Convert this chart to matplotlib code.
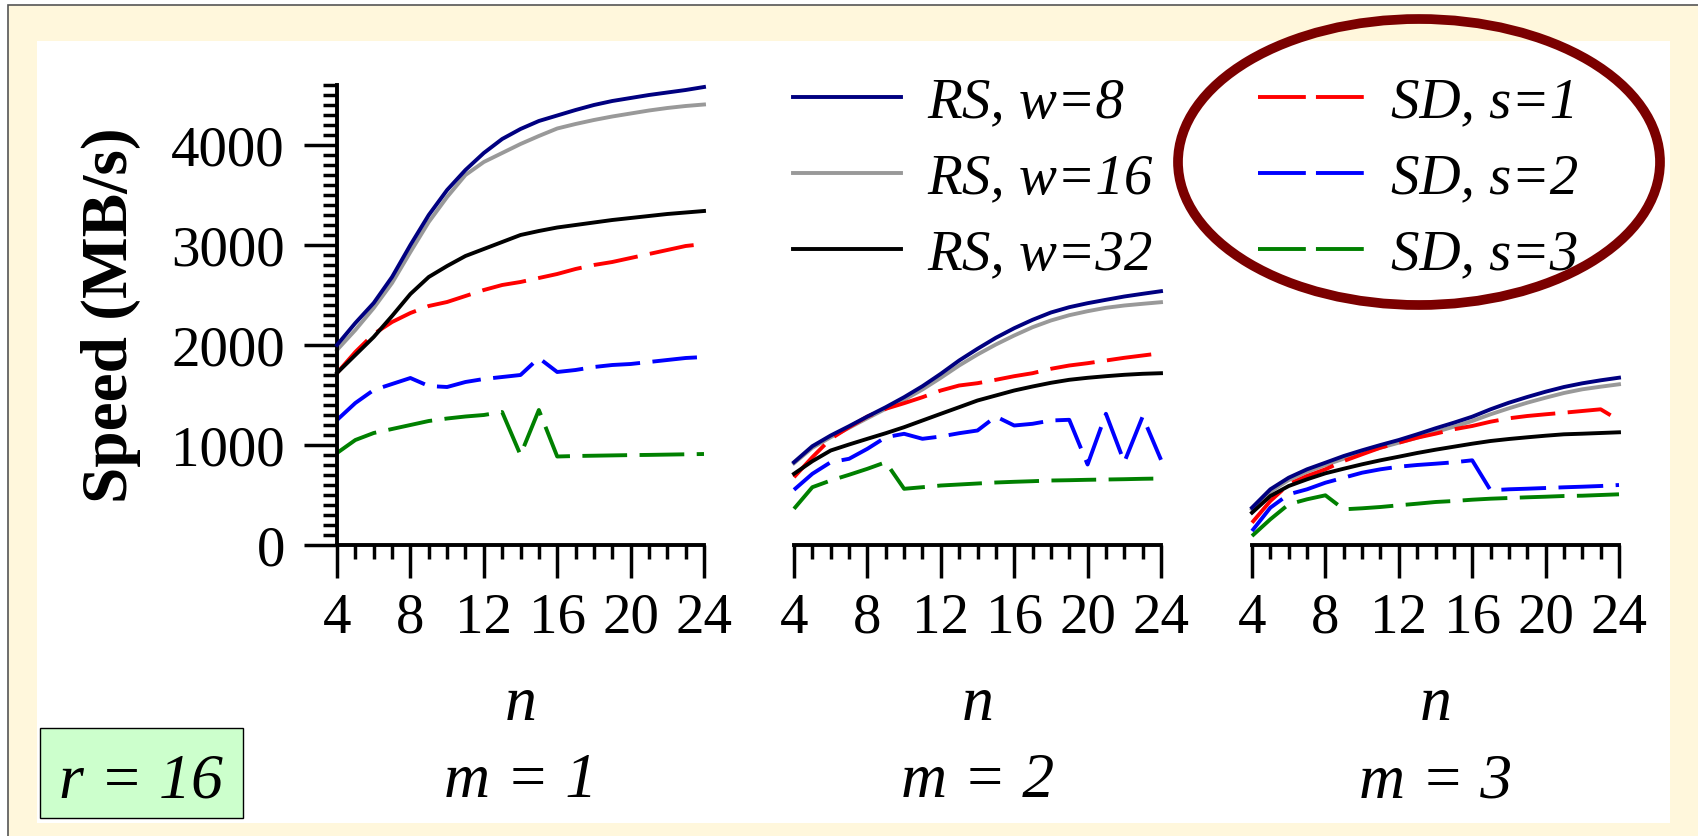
import matplotlib.pyplot as plt
from matplotlib.lines import Line2D
from matplotlib.patches import Rectangle, Ellipse
from matplotlib.ticker import MultipleLocator

plt.rcParams['font.family'] = 'Liberation Serif'

W, H = 1698, 836

n = list(range(4, 25))

# m = 1
rs8_m1 = [2000, 2220, 2420, 2680, 3000, 3300, 3550, 3750, 3920, 4060, 4160, 4240, 4295, 4350, 4400, 4440, 4470, 4500, 4525, 4550, 4580]
rs16_m1 = [1950, 2150, 2370, 2620, 2930, 3230, 3480, 3700, 3830, 3920, 4010, 4090, 4165, 4210, 4250, 4285, 4315, 4345, 4370, 4390, 4405]
rs32_m1 = [1720, 1900, 2080, 2290, 2510, 2680, 2790, 2890, 2960, 3030, 3100, 3140, 3175, 3200, 3225, 3250, 3270, 3290, 3310, 3325, 3340]
sd1_m1 = [1720, 1930, 2110, 2230, 2320, 2390, 2430, 2490, 2550, 2600, 2630, 2670, 2710, 2760, 2800, 2830, 2870, 2910, 2950, 2990, 3010]
sd2_m1 = [1250, 1420, 1550, 1610, 1670, 1590, 1580, 1630, 1660, 1680, 1700, 1870, 1730, 1750, 1780, 1800, 1810, 1830, 1850, 1870, 1880]
sd3_m1 = [920, 1050, 1120, 1160, 1200, 1240, 1265, 1285, 1300, 1330, 900, 1350, 885, 890, 893, 896, 899, 901, 904, 907, 910]

# m = 2
rs8_m2 = [828, 988, 1095, 1188, 1285, 1378, 1478, 1588, 1712, 1845, 1962, 2072, 2168, 2252, 2325, 2378, 2418, 2452, 2485, 2512, 2538]
rs16_m2 = [818, 972, 1078, 1172, 1268, 1362, 1452, 1555, 1672, 1795, 1905, 2005, 2095, 2178, 2245, 2298, 2338, 2372, 2395, 2412, 2428]
rs32_m2 = [712, 838, 945, 1005, 1062, 1118, 1178, 1245, 1312, 1378, 1445, 1495, 1545, 1585, 1622, 1652, 1672, 1688, 1702, 1712, 1718]
sd1_m2 = [678, 878, 1062, 1178, 1285, 1362, 1418, 1478, 1545, 1595, 1618, 1652, 1688, 1718, 1762, 1795, 1818, 1845, 1872, 1895, 1918]
sd2_m2 = [552, 712, 828, 862, 962, 1078, 1112, 1062, 1085, 1118, 1145, 1285, 1195, 1212, 1245, 1252, 805, 1312, 828, 1285, 852]
sd3_m2 = [362, 578, 645, 702, 762, 828, 562, 578, 595, 605, 615, 625, 632, 638, 645, 648, 652, 655, 658, 662, 665]

# m = 3
rs8_m3 = [373, 557, 673, 757, 823, 890, 947, 1000, 1050, 1107, 1167, 1223, 1283, 1357, 1423, 1480, 1533, 1580, 1617, 1647, 1673]
rs16_m3 = [357, 533, 650, 733, 800, 863, 923, 973, 1023, 1073, 1130, 1183, 1240, 1307, 1367, 1423, 1473, 1520, 1557, 1583, 1607]
rs32_m3 = [323, 490, 590, 657, 717, 763, 807, 847, 883, 920, 953, 983, 1013, 1040, 1060, 1077, 1093, 1107, 1113, 1120, 1127]
sd1_m3 = [223, 440, 607, 690, 757, 840, 907, 973, 1023, 1073, 1113, 1157, 1190, 1233, 1267, 1290, 1307, 1323, 1340, 1357, 1247]
sd2_m3 = [140, 373, 507, 557, 623, 673, 723, 757, 783, 800, 813, 827, 847, 547, 557, 563, 570, 577, 583, 590, 600]
sd3_m3 = [90, 257, 407, 457, 497, 357, 367, 380, 397, 413, 430, 440, 453, 463, 470, 477, 483, 490, 493, 500, 507]

panels = [
    ('m = 1', [rs8_m1, rs16_m1, rs32_m1, sd1_m1, sd2_m1, sd3_m1]),
    ('m = 2', [rs8_m2, rs16_m2, rs32_m2, sd1_m2, sd2_m2, sd3_m2]),
    ('m = 3', [rs8_m3, rs16_m3, rs32_m3, sd1_m3, sd2_m3, sd3_m3]),
]

labels = ['RS, w=8', 'RS, w=16', 'RS, w=32', 'SD, s=1', 'SD, s=2', 'SD, s=3']
colors = ['#000080', '#999999', 'black', 'red', 'blue', 'green']
dashed = [False, False, False, True, True, True]
order = [3, 2, 2.5, 2, 2, 2]

LW = 2.8
DASH = (0, (11.5, 3.2))


def fx(px):
    return px / W


def fy(py):
    return 1 - py / H


fig = plt.figure(figsize=(W / 100, H / 100), dpi=100)
fig.patch.set_facecolor('white')

# cream frame with the white plotting sheet on top
fig.add_artist(Rectangle((fx(8), -0.05), 1.1, fy(5) + 0.05, transform=fig.transFigure,
                         facecolor='#FFF7DC', edgecolor='#555555', lw=1.2, zorder=-10))
fig.add_artist(Rectangle((fx(37), fy(823)), (1670 - 37) / W, (823 - 41) / H, transform=fig.transFigure,
                         facecolor='white', edgecolor='none', zorder=-9))

lefts = [337, 794, 1252]
for i, (title, series) in enumerate(panels):
    ax = fig.add_axes([fx(lefts[i]), fy(545), 367 / W, 460 / H])
    ax.set_facecolor('none')
    for vals, c, d, z in zip(series, colors, dashed, order):
        ax.plot(n, vals, color=c, lw=LW, ls=DASH if d else '-', zorder=z, clip_on=False)

    ax.set_xlim(4, 24)
    ax.set_ylim(0, 4600)
    ax.xaxis.set_major_locator(MultipleLocator(4))
    ax.xaxis.set_minor_locator(MultipleLocator(1))
    for side in ['top', 'right']:
        ax.spines[side].set_visible(False)
    ax.spines['bottom'].set_linewidth(2.8)
    ax.spines['left'].set_linewidth(2.8)
    ax.tick_params(axis='x', which='major', length=23.5, width=2.5, labelsize=41, pad=11)
    ax.tick_params(axis='x', which='minor', length=10, width=2.5)

    if i == 0:
        ax.yaxis.set_major_locator(MultipleLocator(1000))
        ax.yaxis.set_minor_locator(MultipleLocator(100))
        ax.tick_params(axis='y', which='major', length=23.5, width=2.5, labelsize=41, pad=14)
        ax.tick_params(axis='y', which='minor', length=10, width=2.5)
    else:
        ax.spines['left'].set_visible(False)
        ax.tick_params(axis='y', which='both', left=False, labelleft=False)

    cx = fx(lefts[i] + 183.5)
    fig.text(cx, fy(720), 'n', fontsize=46, style='italic', ha='center', va='baseline')
    fig.text(cx, fy(797), title, fontsize=46, style='italic', ha='center', va='baseline')

fig.text(fx(111), fy(315), 'Speed (MB/s)', fontsize=47, fontweight='bold',
         rotation=90, ha='center', va='center')

# r = 16 tag in the lower left
fig.add_artist(Rectangle((fx(40), fy(818)), 203 / W, 90 / H, transform=fig.transFigure,
                         facecolor='#CCFFCC', edgecolor='black', lw=1.0))
fig.text(fx(141), fy(797), 'r = 16', fontsize=46, style='italic', ha='center', va='baseline')

# legend, two columns
handles = [Line2D([], [], color=c, lw=LW, ls=(0, (12.3, 2.6)) if d else '-')
           for c, d in zip(colors, dashed)]
fig.legend(handles, labels, ncol=2, loc='upper left', bbox_to_anchor=(fx(793), fy(77)),
           frameon=False, borderpad=0, borderaxespad=0, prop={'size': 41, 'style': 'italic'},
           handlelength=1.9, handletextpad=0.45, columnspacing=1.85, labelspacing=0.42)

# ring drawn around the SD entries
fig.add_artist(Ellipse((fx(1419), fy(162)), 482 / W, 286 / H, transform=fig.transFigure,
                       facecolor='none', edgecolor='#7B0000', lw=7))

fig.savefig('out.png', dpi=100)
